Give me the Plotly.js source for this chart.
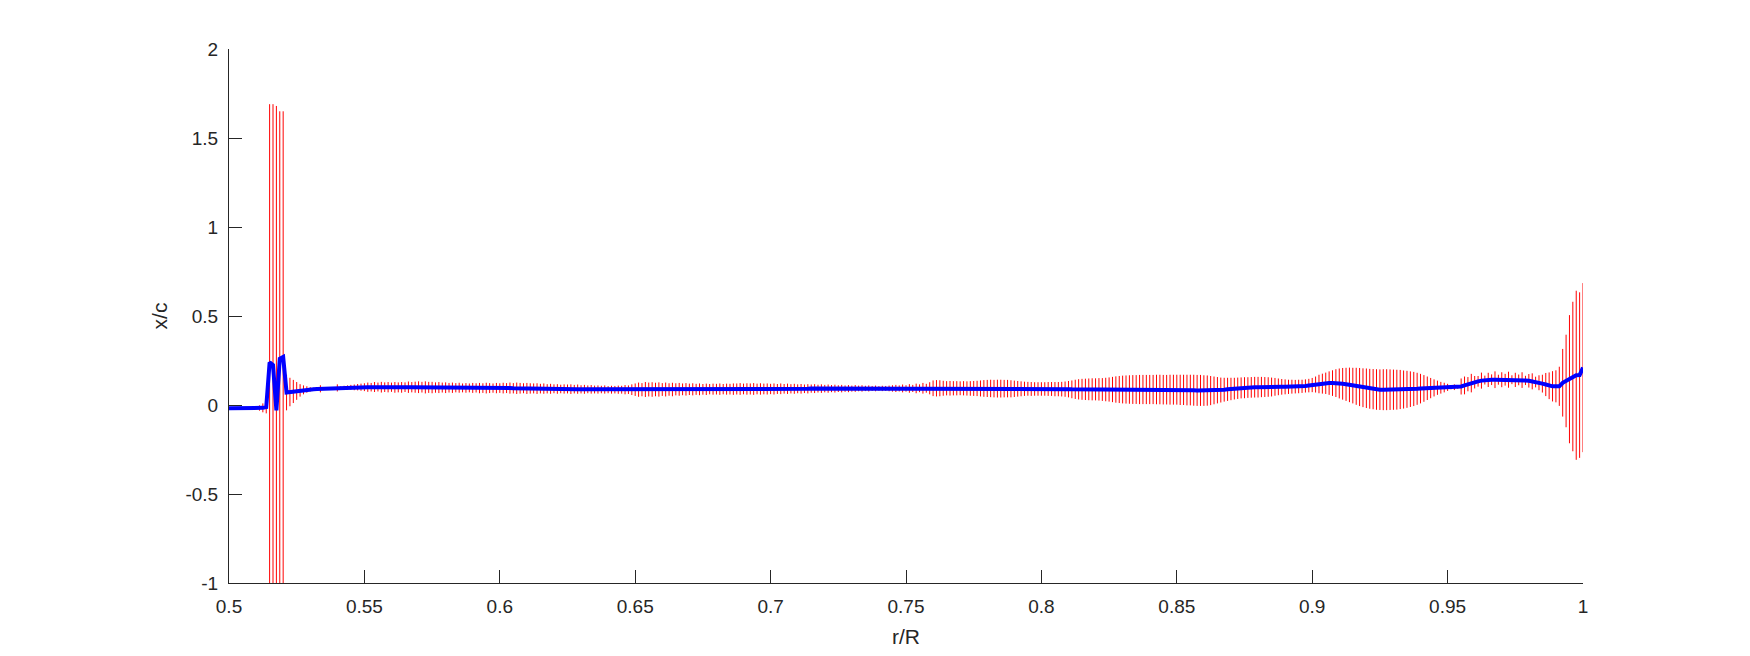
<!DOCTYPE html>
<html>
<head>
<meta charset="utf-8">
<script src="https://cdn.plot.ly/plotly-3.0.1.min.js"></script>
<style>html,body{margin:0;padding:0;background:#fff;}#plot{width:1750px;height:656px;}</style>
</head>
<body>
<div id="plot"></div>
<script>
// r/R stations: evenly spaced measurement positions from 0.5 to 1.0
const rStart = 0.5;
const rStep = 0.00125;

// mean x/c at each station
const meanXc = [
-0.018,-0.018,-0.018,-0.019,-0.019,-0.018,-0.018,-0.018,-0.017,-0.017,
-0.016,-0.012,0.24,0.225,-0.03,0.26,0.27,0.07,0.073,0.076,
0.079,0.082,0.085,0.087,0.088,0.089,0.09,0.091,0.092,0.093,
0.094,0.095,0.096,0.097,0.098,0.098,0.099,0.099,0.1,0.1,
0.1,0.1,0.1,0.101,0.101,0.1,0.1,0.1,0.1,0.099,
0.099,0.099,0.1,0.1,0.1,0.1,0.1,0.1,0.099,0.099,
0.098,0.098,0.098,0.098,0.097,0.097,0.097,0.097,0.097,0.096,
0.096,0.096,0.096,0.096,0.095,0.095,0.095,0.095,0.095,0.095,
0.095,0.095,0.095,0.095,0.094,0.094,0.094,0.094,0.093,0.093,
0.093,0.092,0.092,0.092,0.091,0.091,0.091,0.09,0.09,0.09,
0.09,0.089,0.089,0.089,0.088,0.088,0.088,0.088,0.087,0.087,
0.087,0.087,0.086,0.086,0.086,0.086,0.086,0.086,0.086,0.086,
0.086,0.086,0.086,0.087,0.087,0.087,0.087,0.087,0.087,0.087,
0.087,0.087,0.088,0.088,0.088,0.088,0.088,0.088,0.088,0.088,
0.088,0.088,0.089,0.089,0.089,0.089,0.089,0.089,0.089,0.089,
0.09,0.09,0.09,0.09,0.09,0.09,0.09,0.09,0.09,0.09,
0.09,0.09,0.09,0.091,0.091,0.091,0.091,0.091,0.091,0.091,
0.091,0.091,0.092,0.092,0.092,0.092,0.092,0.092,0.092,0.092,
0.092,0.092,0.092,0.092,0.092,0.093,0.093,0.093,0.093,0.093,
0.093,0.093,0.093,0.093,0.093,0.093,0.093,0.093,0.093,0.093,
0.093,0.093,0.093,0.093,0.094,0.094,0.094,0.094,0.094,0.094,
0.094,0.094,0.094,0.094,0.094,0.094,0.094,0.094,0.093,0.093,
0.093,0.093,0.093,0.093,0.093,0.093,0.092,0.092,0.092,0.092,
0.092,0.091,0.091,0.091,0.091,0.091,0.091,0.09,0.09,0.09,
0.09,0.09,0.09,0.09,0.089,0.089,0.089,0.089,0.089,0.088,
0.088,0.088,0.088,0.088,0.088,0.088,0.088,0.088,0.087,0.087,
0.087,0.087,0.087,0.087,0.087,0.087,0.087,0.087,0.087,0.087,
0.087,0.087,0.087,0.087,0.087,0.087,0.086,0.086,0.086,0.086,
0.086,0.085,0.085,0.084,0.084,0.083,0.082,0.082,0.081,0.081,
0.081,0.082,0.083,0.084,0.086,0.088,0.09,0.092,0.094,0.096,
0.097,0.098,0.099,0.1,0.1,0.101,0.101,0.101,0.101,0.102,
0.102,0.102,0.102,0.102,0.103,0.103,0.104,0.105,0.107,0.109,
0.112,0.115,0.118,0.12,0.122,0.123,0.123,0.123,0.121,0.119,
0.116,0.113,0.109,0.105,0.101,0.097,0.094,0.091,0.089,0.087,
0.086,0.086,0.086,0.086,0.086,0.086,0.087,0.087,0.088,0.089,
0.09,0.091,0.092,0.093,0.094,0.095,0.096,0.097,0.097,0.098,
0.099,0.1,0.1,0.101,0.104,0.11,0.117,0.123,0.128,0.133,
0.137,0.14,0.141,0.142,0.142,0.142,0.142,0.142,0.142,0.142,
0.141,0.141,0.14,0.138,0.136,0.133,0.129,0.125,0.12,0.115,
0.108,0.105,0.105,0.105,0.125,0.135,0.145,0.16,0.167,0.168,
0.21
];

// error half-length at each station
const errXc = [
0,0,0,0,0,0,0,0.004,0.008,0.015,
0.025,0.035,1.45,1.465,1.71,1.39,1.38,0.1,0.08,0.065,
0.05,0.035,0.025,0.018,0.012,0.008,0.006,0.02,0.006,0.005,
0.005,0.006,0.02,0.008,0.01,0.012,0.014,0.016,0.018,0.02,
0.022,0.026,0.024,0.028,0.025,0.03,0.027,0.029,0.026,0.03,
0.028,0.03,0.027,0.032,0.029,0.031,0.033,0.03,0.034,0.031,
0.032,0.029,0.031,0.028,0.03,0.027,0.029,0.026,0.028,0.025,
0.027,0.025,0.028,0.026,0.029,0.027,0.03,0.028,0.026,0.029,
0.027,0.03,0.028,0.031,0.029,0.032,0.03,0.028,0.031,0.029,
0.028,0.03,0.027,0.029,0.026,0.028,0.025,0.027,0.024,0.026,
0.025,0.027,0.024,0.026,0.023,0.025,0.022,0.024,0.022,0.023,
0.021,0.023,0.02,0.022,0.021,0.023,0.022,0.026,0.024,0.03,
0.035,0.04,0.037,0.042,0.039,0.041,0.038,0.04,0.036,0.039,
0.035,0.038,0.034,0.036,0.033,0.035,0.032,0.034,0.031,0.033,
0.03,0.032,0.029,0.031,0.03,0.032,0.029,0.031,0.03,0.032,
0.031,0.033,0.03,0.032,0.031,0.033,0.03,0.032,0.03,0.031,
0.029,0.031,0.028,0.03,0.027,0.029,0.026,0.028,0.025,0.027,
0.024,0.026,0.023,0.025,0.022,0.024,0.021,0.023,0.02,0.022,
0.019,0.021,0.018,0.02,0.017,0.019,0.016,0.018,0.015,0.017,
0.014,0.016,0.013,0.015,0.014,0.016,0.018,0.02,0.017,0.022,
0.018,0.024,0.02,0.027,0.022,0.03,0.025,0.034,0.044,0.046,
0.045,0.042,0.04,0.041,0.04,0.04,0.039,0.04,0.04,0.041,
0.042,0.043,0.045,0.047,0.048,0.049,0.049,0.05,0.05,0.049,
0.049,0.048,0.046,0.044,0.042,0.04,0.039,0.039,0.038,0.038,
0.038,0.038,0.039,0.039,0.04,0.04,0.041,0.043,0.046,0.05,
0.054,0.057,0.059,0.06,0.061,0.062,0.062,0.063,0.064,0.066,
0.068,0.071,0.074,0.076,0.078,0.079,0.08,0.081,0.081,0.082,
0.082,0.082,0.082,0.082,0.083,0.083,0.083,0.083,0.084,0.084,
0.084,0.085,0.085,0.086,0.086,0.087,0.087,0.087,0.086,0.085,
0.082,0.078,0.074,0.07,0.067,0.065,0.063,0.061,0.06,0.059,
0.059,0.058,0.058,0.058,0.058,0.057,0.056,0.055,0.053,0.05,
0.047,0.044,0.042,0.04,0.039,0.038,0.038,0.037,0.037,0.038,
0.04,0.045,0.052,0.056,0.06,0.066,0.072,0.078,0.084,0.089,
0.093,0.097,0.1,0.104,0.107,0.109,0.111,0.112,0.113,0.114,
0.114,0.115,0.115,0.114,0.113,0.112,0.11,0.107,0.104,0.1,
0.096,0.09,0.083,0.075,0.066,0.057,0.048,0.04,0.033,0.027,
0.02,0.012,0.016,0.01,0.045,0.05,0.04,0.052,0.035,0.03,
0.045,0.025,0.04,0.03,0.047,0.028,0.042,0.033,0.045,0.025,
0.04,0.03,0.044,0.026,0.038,0.045,0.03,0.042,0.05,0.065,
0.075,0.085,0.09,0.11,0.19,0.26,0.36,0.42,0.475,0.465,
0.475
];

const xTickVals = [0.5,0.55,0.6,0.65,0.7,0.75,0.8,0.85,0.9,0.95,1];
const xTickText = ['0.5','0.55','0.6','0.65','0.7','0.75','0.8','0.85','0.9','0.95','1'];
const yTickVals = [-1,-0.5,0,0.5,1,1.5,2];
const yTickText = ['-1','-0.5','0','0.5','1','1.5','2'];

const rR = meanXc.map((_, i) => +(rStart + i * rStep).toFixed(5));

const axisColor = '#262626';
const fontFam = 'Liberation Sans, Arial, Helvetica, sans-serif';

const traces = [
  {
    x: rR, y: meanXc, type: 'scatter', mode: 'markers',
    marker: {size: 1, opacity: 0},
    error_y: {type: 'data', array: errXc, symmetric: true, color: 'rgb(255,0,0)', thickness: 1, width: 0},
    hoverinfo: 'skip', showlegend: false
  },
  {
    x: rR, y: meanXc, type: 'scatter', mode: 'lines',
    line: {color: 'rgb(0,0,255)', width: 4},
    hoverinfo: 'skip', showlegend: false
  }
];

const layout = {
  width: 1750, height: 656,
  margin: {l: 229, r: 167, t: 49, b: 73},
  paper_bgcolor: '#ffffff', plot_bgcolor: '#ffffff',
  font: {family: fontFam, size: 19, color: axisColor},
  showlegend: false,
  xaxis: {
    range: [0.5, 1], tickvals: xTickVals, ticktext: xTickText,
    ticks: 'inside', ticklen: 13, tickwidth: 1, tickcolor: axisColor,
    showline: true, linecolor: axisColor, linewidth: 1, mirror: false,
    showgrid: false, zeroline: false, ticklabelstandoff: 6,
    tickfont: {family: fontFam, size: 19, color: axisColor},
    title: {text: 'r/R', font: {family: fontFam, size: 21, color: axisColor}, standoff: 13}
  },
  yaxis: {
    range: [-1, 2], tickvals: yTickVals, ticktext: yTickText,
    ticks: 'inside', ticklen: 13, tickwidth: 1, tickcolor: axisColor,
    showline: true, linecolor: axisColor, linewidth: 1, mirror: false,
    showgrid: false, zeroline: false, ticklabelstandoff: 6,
    tickfont: {family: fontFam, size: 19, color: axisColor},
    title: {text: 'x/c', font: {family: fontFam, size: 21, color: axisColor}, standoff: 12}
  }
};

Plotly.newPlot('plot', traces, layout, {staticPlot: true, displayModeBar: false});
</script>
</body>
</html>
